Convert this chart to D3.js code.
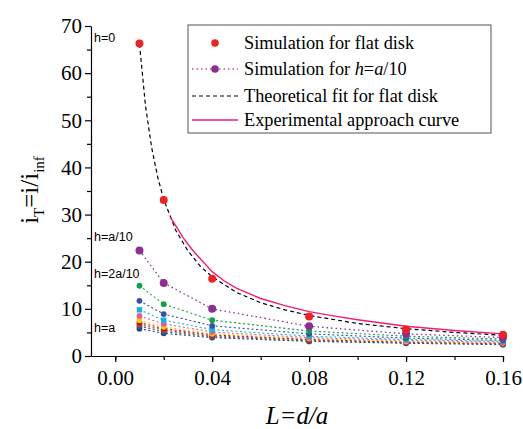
<!DOCTYPE html>
<html lang="en">
<head>
<meta charset="utf-8">
<title>Approach curves</title>
<script type="text/javascript" src="https://d3js.org/d3.v7.min.js"></script>
<style>
body { margin: 0; background: #fff; }
.axis path, .axis line { stroke: #000; stroke-width: 1.2; }
.axis text { font-family: "Liberation Serif", "Times New Roman", serif; font-size: 21px; fill: #000; }
.hlabel { font-family: "Liberation Sans", Arial, sans-serif; font-size: 12.5px; fill: #000; }
.legend text { font-family: "Liberation Serif", "Times New Roman", serif; font-size: 18.3px; fill: #000; }
</style>
</head>
<body>
<div id="chart"></div>
<script type="text/javascript">

var distances = [0.01, 0.02, 0.04, 0.08, 0.12, 0.16];

var flatDisk = [66.3, 33.1, 16.4, 8.4, 5.6, 4.5];

// simulated curves for h = a/10 ... a
var heightSeries = [
    {name: "a/10",  color: "#8b2d91", values: [22.4, 15.5, 10.0, 6.3, 4.7, 3.9]},
    {name: "2a/10", color: "#12a14a", values: [14.9, 11.0, 7.6, 5.3, 4.2, 3.6]},
    {name: "3a/10", color: "#3550a8", values: [11.7, 8.9, 6.4, 4.7, 3.8, 3.3]},
    {name: "4a/10", color: "#1ab3d6", values: [9.8, 7.6, 5.6, 4.2, 3.5, 3.1]},
    {name: "5a/10", color: "#e45aa6", values: [8.5, 6.8, 5.1, 3.9, 3.3, 2.9]},
    {name: "6a/10", color: "#f0d000", values: [7.6, 6.2, 4.7, 3.7, 3.1, 2.8]},
    {name: "7a/10", color: "#a3183c", values: [7.1, 5.8, 4.5, 3.5, 3.0, 2.7]},
    {name: "8a/10", color: "#e8302c", values: [6.7, 5.5, 4.3, 3.4, 2.9, 2.6]},
    {name: "9a/10", color: "#16705a", values: [6.3, 5.2, 4.1, 3.2, 2.8, 2.5]},
    {name: "a",     color: "#243c9a", values: [5.8, 4.8, 3.9, 3.1, 2.7, 2.4]}
];

var fitL = [0.01, 0.0125, 0.015, 0.0175, 0.02, 0.025, 0.03, 0.035, 0.04, 0.05, 0.06, 0.07, 0.08, 0.10, 0.12, 0.14, 0.16];
var fitI = [66.2, 53.0, 44.3, 38.0, 33.2, 26.6, 22.3, 19.1, 16.8, 13.5, 11.3, 9.8, 8.6, 6.9, 5.8, 5.0, 4.4];

var expL = [0.0227, 0.025, 0.028, 0.03, 0.033, 0.035, 0.04, 0.045, 0.05, 0.06, 0.07, 0.08, 0.09, 0.10, 0.12, 0.14, 0.16];
var expI = [29.5, 27.6, 25.1, 23.7, 21.8, 20.7, 17.9, 15.9, 14.4, 12.2, 10.7, 9.4, 8.5, 7.7, 6.3, 5.4, 4.7];

var xTicks = [0.00, 0.04, 0.08, 0.12, 0.16];
var yTicks = [0, 10, 20, 30, 40, 50, 60, 70];

var legendLabels = ["Simulation for flat disk", "Simulation for h=a/10",
    "Theoretical fit for flat disk", "Experimental approach curve"];

var svg = d3.select("#chart").append("svg")
    .attr("width", 523)
    .attr("height", 429);

var x = d3.scaleLinear().domain([-0.01, 0.16]).range([91, 503]);
var y = d3.scaleLinear().domain([0, 70]).range([356, 26]);

var line = d3.line()
    .x(function(d) { return x(d[0]); })
    .y(function(d) { return y(d[1]); });

// axes with minor ticks
svg.append("g")
    .attr("class", "axis")
    .attr("transform", "translate(0,356)")
    .call(d3.axisBottom(x).tickValues(d3.range(0, 0.161, 0.02)).tickSize(4).tickFormat(""))
    .call(function(g) { g.select(".domain").remove(); });

svg.append("g")
    .attr("class", "axis")
    .attr("transform", "translate(0,356)")
    .call(d3.axisBottom(x).tickValues(xTicks).tickSize(6).tickSizeOuter(0).tickPadding(8).tickFormat(d3.format(".2f")));

svg.append("g")
    .attr("class", "axis")
    .attr("transform", "translate(91,0)")
    .call(d3.axisLeft(y).tickValues(d3.range(5, 70, 10)).tickSize(4).tickFormat(""))
    .call(function(g) { g.select(".domain").remove(); });

svg.append("g")
    .attr("class", "axis")
    .attr("transform", "translate(91,0)")
    .call(d3.axisLeft(y).tickValues(yTicks).tickSize(6).tickSizeOuter(0).tickPadding(3));

// dotted simulation curves
heightSeries.slice().reverse().forEach(function(s, k) {
    var pts = distances.map(function(d, i) { return [d, s.values[i]]; });
    var isTop = s.name == "a/10";
    svg.append("path")
        .attr("d", line(pts))
        .attr("fill", "none")
        .attr("stroke", s.color)
        .attr("stroke-width", isTop ? 1.3 : 1.1)
        .attr("stroke-dasharray", isTop ? "1.5,3" : "2,2.5");
    var marks = svg.append("g").selectAll("g")
        .data(pts)
        .enter();
    if (s.name == "4a/10") {
        marks.append("rect")
            .attr("x", function(d) { return x(d[0]) - 2.7; })
            .attr("y", function(d) { return y(d[1]) - 2.7; })
            .attr("width", 5.4).attr("height", 5.4)
            .attr("fill", s.color);
    } else {
        marks.append("circle")
            .attr("cx", function(d) { return x(d[0]); })
            .attr("cy", function(d) { return y(d[1]); })
            .attr("r", isTop ? 4 : 2.9)
            .attr("fill", s.color);
    }
});

// theoretical fit
svg.append("path")
    .attr("d", line(fitL.map(function(d, i) { return [d, fitI[i]]; })))
    .attr("fill", "none")
    .attr("stroke", "#000")
    .attr("stroke-width", 1.2)
    .attr("stroke-dasharray", "4,3");

// experimental
svg.append("path")
    .attr("d", line(expL.map(function(d, i) { return [d, expI[i]]; })))
    .attr("fill", "none")
    .attr("stroke", "#ee1c7e")
    .attr("stroke-width", 1.4);

svg.append("g").selectAll("circle")
    .data(distances)
    .enter().append("circle")
        .attr("cx", function(d) { return x(d); })
        .attr("cy", function(d, i) { return y(flatDisk[i]); })
        .attr("r", 4)
        .attr("fill", "#ec2227");

// h labels
var hLabels = [["h=0", 42], ["h=a/10", 241], ["h=2a/10", 278], ["h=a", 332]];
svg.selectAll(".hlabel")
    .data(hLabels)
    .enter().append("text")
        .attr("class", "hlabel")
        .attr("x", 94)
        .attr("y", function(d) { return d[1]; })
        .text(function(d) { return d[0]; });

// legend
var legend = svg.append("g").attr("class", "legend");
legend.append("rect")
    .attr("x", 188).attr("y", 25).attr("width", 303).attr("height", 108)
    .attr("fill", "#fff").attr("stroke", "#555").attr("stroke-width", 1);

var rowY = [43, 69, 96, 120];
legend.append("circle").attr("cx", 215).attr("cy", rowY[0]).attr("r", 3.8).attr("fill", "#ec2227");
legend.append("line").attr("x1", 192).attr("x2", 238).attr("y1", rowY[1]).attr("y2", rowY[1])
    .attr("stroke", "#c24fb0").attr("stroke-width", 1.3).attr("stroke-dasharray", "1.5,3");
legend.append("circle").attr("cx", 215).attr("cy", rowY[1]).attr("r", 3.8).attr("fill", "#8b2d91");
legend.append("line").attr("x1", 192).attr("x2", 238).attr("y1", rowY[2]).attr("y2", rowY[2])
    .attr("stroke", "#000").attr("stroke-width", 1.2).attr("stroke-dasharray", "4,3");
legend.append("line").attr("x1", 192).attr("x2", 238).attr("y1", rowY[3]).attr("y2", rowY[3])
    .attr("stroke", "#ee1c7e").attr("stroke-width", 1.4);

legendLabels.forEach(function(t, i) {
    var txt = legend.append("text").attr("x", 244).attr("y", rowY[i] + 6);
    if (i == 1) {
        txt.append("tspan").text("Simulation for ");
        txt.append("tspan").attr("font-style", "italic").text("h");
        txt.append("tspan").text("=");
        txt.append("tspan").attr("font-style", "italic").text("a");
        txt.append("tspan").text("/10");
    } else {
        txt.text(t);
    }
});

// axis titles
var ylab = svg.append("text")
    .attr("transform", "translate(38,190) rotate(-90)")
    .attr("text-anchor", "middle")
    .style("font-family", "Liberation Serif, serif")
    .style("font-size", "25px");
ylab.append("tspan").text("i");
ylab.append("tspan").attr("font-size", "15px").attr("dy", 6).text("T");
ylab.append("tspan").attr("dy", -6).text("=i/i");
ylab.append("tspan").attr("font-size", "15px").attr("dy", 6).text("inf");

svg.append("text")
    .attr("x", 297).attr("y", 424)
    .attr("text-anchor", "middle")
    .style("font-family", "Liberation Serif, serif")
    .style("font-size", "25px")
    .style("font-style", "italic")
    .text("L=d/a");

</script>
</body>
</html>
